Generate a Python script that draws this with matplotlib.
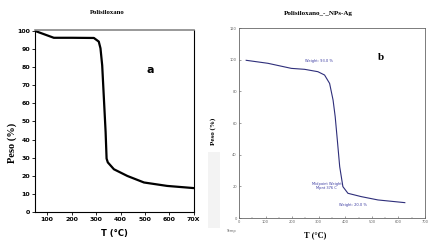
import matplotlib
matplotlib.use("Agg")
import matplotlib.pyplot as plt
from matplotlib.patches import Rectangle

# panel a: Polisiloxano
temp_a = [50, 127, 200, 291, 311, 318, 325, 332, 339, 343, 348, 373, 428, 496, 591, 700]
peso_a = [100, 96.2, 96.2, 96.1, 94.1, 90.4, 81, 62.6, 44.2, 29.5, 27.4, 23.6, 19.9, 16.3, 14.4, 13.2]

# panel b: Polisiloxano - NPs-Ag
temp_b = [27, 109, 197, 247, 297, 322, 341, 354, 362, 370, 379, 391, 410, 460, 523, 624]
peso_b = [99.6, 97.7, 94.5, 93.9, 92.4, 90.3, 85.0, 74.5, 64.0, 49.3, 32.4, 19.8, 15.6, 13.5, 11.4, 9.7]

xticks_a = [100, 200, 300, 400, 500, 600, 700]
xticklabels_a = ["100", "200", "300", "400", "500", "600", "70X"]
yticks_a = [0, 10, 20, 30, 40, 50, 60, 70, 80, 90, 100]
xticks_b = [0, 100, 200, 300, 400, 500, 600, 700]
yticks_b = [0, 20, 40, 60, 80, 100, 120]

W, H = 438, 247
fig = plt.figure(figsize=(W / 100, H / 100), dpi=100)
fig.patch.set_facecolor("white")

def fx(px):
    return px / W

def fy(py):
    return 1 - py / H

# ── left panel ────────────────────────────────────────────────
ax1 = fig.add_axes([fx(35), fy(212), fx(194.3) - fx(35), fy(30) - fy(212)])
ax1.plot(temp_a, peso_a, color="black", linewidth=1.6, solid_capstyle="round")
ax1.set_xlim(50, 702)
ax1.set_ylim(0, 100.5)
ax1.set_xticks(xticks_a)
ax1.set_xticklabels(xticklabels_a)
ax1.set_yticks(yticks_a)
ax1.tick_params(labelsize=4.5, length=2, width=0.6, pad=1.5, direction="out")
for lab in ax1.get_xticklabels() + ax1.get_yticklabels():
    lab.set_fontweight("bold")
for sp in ax1.spines.values():
    sp.set_linewidth(0.8)
ax1.spines["top"].set_color("#888888")
ax1.spines["top"].set_linewidth(1.2)
ax1.text(523, 78.5, "a", fontsize=8, fontweight="bold", ha="center", va="center",
         family="DejaVu Sans")

fig.text(fx(107), fy(13), "Polisiloxano", fontsize=4.8, fontweight="bold",
         family="Liberation Serif", ha="center", va="center")
fig.text(fx(12), fy(143), "Peso (%)", fontsize=7.5, fontweight="bold",
         family="Liberation Serif", rotation=90, ha="center", va="center")
fig.text(fx(114), fy(233), "T (\u00b0C)", fontsize=6, fontweight="bold",
         ha="center", va="center")

# light gray strip between panels
fig.patches.append(Rectangle((fx(208), fy(228)), fx(220) - fx(208), fy(152) - fy(228),
                             transform=fig.transFigure, facecolor="#f3f3f3",
                             edgecolor="none", zorder=0))

# ── right panel ───────────────────────────────────────────────
ax2 = fig.add_axes([fx(239), fy(218), fx(425) - fx(239), fy(28) - fy(218)])
ax2.plot(temp_b, peso_b, color="#2e2e7a", linewidth=0.8)
ax2.set_xlim(0, 700)
ax2.set_ylim(0, 120)
ax2.set_xticks(xticks_b)
ax2.set_yticks(yticks_b)
ax2.set_xticks(range(0, 701, 50), minor=True)
ax2.tick_params(labelsize=2.6, length=1.5, width=0.4, pad=1.5, direction="in",
                colors="#555555", labelcolor="#666666")
ax2.tick_params(which="minor", length=1, width=0.3, direction="in", colors="#555555")
for sp in ax2.spines.values():
    sp.set_linewidth(0.6)
    sp.set_color("#666666")
ax2.text(534, 101.5, "b", fontsize=8, fontweight="bold", family="Liberation Serif",
         ha="center", va="center")
ax2.text(300, 99, "Weight: 93.0 %", fontsize=2.6, color="#3a3aa0", ha="center", va="center")
ax2.text(330, 20, "Midpoint Weight\nMpnt 376 C", fontsize=2.6, color="#3a3aa0",
         ha="center", va="center", linespacing=1.1)
ax2.text(430, 8, "Weight: 20.0 %", fontsize=2.6, color="#3a3aa0", ha="center", va="center")

fig.text(fx(318.5), fy(14), "Polisiloxano_-_NPs-Ag", fontsize=5, fontweight="bold",
         family="Liberation Serif", ha="center", va="center")
fig.text(fx(213), fy(131), "Peso (%)", fontsize=5, fontweight="bold",
         family="Liberation Serif", rotation=90, ha="center", va="center")
fig.text(fx(315), fy(235), "T (\u00b0C)", fontsize=6, fontweight="bold",
         family="Liberation Serif", ha="center", va="center")
fig.text(fx(231), fy(231), "Temp", fontsize=2.6, color="#666666", ha="center", va="center")

fig.savefig("out.png", dpi=100)
